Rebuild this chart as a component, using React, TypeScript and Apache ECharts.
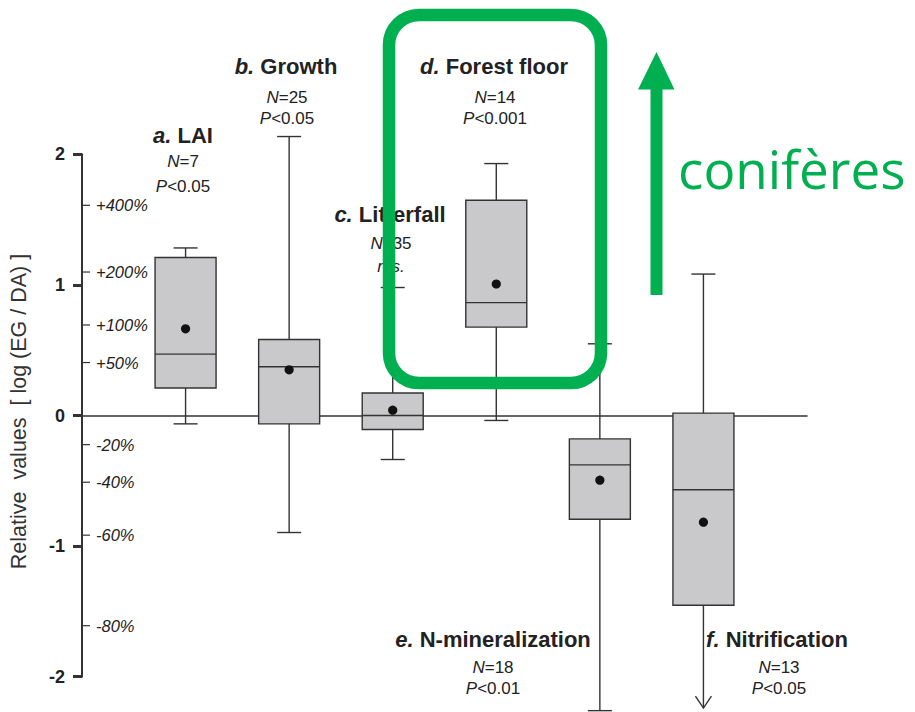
import React, { useEffect, useRef } from 'react';
import * as echarts from 'echarts';

// ---- data ----
const panelLetters = ['a.', 'b.', 'c.', 'd.', 'e.', 'f.'];
const panelNames = ['LAI', 'Growth', 'Litterfall', 'Forest floor', 'N-mineralization', 'Nitrification'];
const sampleSizes = ['7', '25', '35', '14', '18', '13'];
const pValues = ['<0.05', '<0.05', 'n.s.', '<0.001', '<0.01', '<0.05'];

const whiskerLow = [-0.064, -0.896, -0.337, -0.038, -2.26, -2.24];
const q1 = [0.21, -0.064, -0.107, 0.677, -0.794, -1.453];
const median = [0.47, 0.373, 0.0, 0.864, -0.378, -0.569];
const q3 = [1.21, 0.582, 0.172, 1.648, -0.179, 0.018];
const whiskerHigh = [1.283, 2.136, 0.98, 1.929, 0.549, 1.083];
const means = [0.664, 0.35, 0.041, 1.007, -0.495, -0.817];
const truncatedLow = [0, 0, 0, 0, 0, 1];

const yTicks = [-2, -1, 0, 1, 2];
const pctLabels = ['+400%', '+200%', '+100%', '+50%', '-20%', '-40%', '-60%', '-80%'];
const pctChanges = [4, 2, 1, 0.5, -0.2, -0.4, -0.6, -0.8];

// ---- layout (pixels) ----
const labelLayout = [
  { tx: 183, ty: 135, nx: 183, ny: 161, py: 186 },
  { tx: 286, ty: 66, nx: 287, ny: 97, py: 118 },
  { tx: 390, ty: 214, nx: 391, ny: 243, py: 266 },
  { tx: 494, ty: 66, nx: 495, ny: 97, py: 118 },
  { tx: 493, ty: 639, nx: 493, ny: 667, py: 688 },
  { tx: 777, ty: 639, nx: 779, ny: 667, py: 688 },
];

const FONT = '"Liberation Sans", Arial, sans-serif';
const INK = '#333333';
const TXT = '#222222';
const GREEN = '#00b050';

export default function App() {
  const ref = useRef<HTMLDivElement>(null);
  useEffect(() => {
    if (!ref.current) return;
    const chart = echarts.init(ref.current, undefined, { renderer: 'svg' });

    const boxData = panelNames.map((_, i) => [
      i + 1, whiskerLow[i], q1[i], median[i], q3[i], whiskerHigh[i], means[i], truncatedLow[i],
    ]);
    const pctData = pctChanges.map((p) => [0, Math.log(1 + p)]);

    const rich = {
      bi: { fontFamily: FONT, fontSize: 22, fontWeight: 'bold', fontStyle: 'italic', fill: TXT },
      b: { fontFamily: FONT, fontSize: 22, fontWeight: 'bold', fill: TXT },
      i: { fontFamily: FONT, fontSize: 17, fontStyle: 'italic', fill: TXT },
      r: { fontFamily: FONT, fontSize: 17, fill: TXT },
    };

    const labelGraphics: any[] = [];
    panelNames.forEach((name, i) => {
      const L = labelLayout[i];
      labelGraphics.push({
        type: 'text', x: L.tx, y: L.ty, z: 10,
        style: { text: `{bi|${panelLetters[i]}}{b| ${name}}`, rich, align: 'center', verticalAlign: 'middle' },
      });
      labelGraphics.push({
        type: 'text', x: L.nx, y: L.ny, z: 10,
        style: { text: `{i|N}{r|=${sampleSizes[i]}}`, rich, align: 'center', verticalAlign: 'middle' },
      });
      const pText = pValues[i] === 'n.s.' ? `{i|n.s.}` : `{i|P}{r|${pValues[i]}}`;
      labelGraphics.push({
        type: 'text', x: L.nx, y: L.py, z: 10,
        style: { text: pText, rich, align: 'center', verticalAlign: 'middle' },
      });
    });

    const option: any = {
      animation: false,
      backgroundColor: '#ffffff',
      grid: { left: 79, right: 108, top: 154.3, bottom: 35.3, containLabel: false },
      xAxis: {
        type: 'value', min: 0, max: 7,
        axisLine: { show: true, onZero: true, lineStyle: { color: INK, width: 1.5 } },
        axisTick: { show: false }, axisLabel: { show: false }, splitLine: { show: false },
      },
      yAxis: {
        type: 'value', min: -2, max: 2, interval: 1,
        axisLine: { show: true, onZero: true, lineStyle: { color: INK, width: 2 } },
        axisTick: { show: true, length: 9, lineStyle: { color: INK, width: 3 } },
        axisLabel: {
          margin: 17, fontFamily: FONT, fontSize: 18, fontWeight: 'bold', color: TXT,
          formatter: (v: number) => (yTicks.includes(v) ? String(v) : ''),
        },
        splitLine: { show: false },
        name: 'Relative  values  [ log (EG / DA) ]',
        nameLocation: 'middle', nameRotate: 90, nameGap: 52,
        nameTextStyle: { fontFamily: FONT, fontSize: 21.5, color: '#333', padding: [0, 0, 0, 8] },
      },
      series: [
        {
          type: 'custom',
          clip: false,
          data: pctData,
          encode: { x: 0, y: 1 },
          renderItem: (params: any, api: any) => {
            const p = api.coord([api.value(0), api.value(1)]);
            return {
              type: 'group',
              children: [
                { type: 'line', shape: { x1: p[0] + 1, y1: p[1], x2: p[0] + 8, y2: p[1] }, style: { stroke: INK, lineWidth: 1.2 } },
                {
                  type: 'text',
                  style: {
                    text: pctLabels[params.dataIndex], x: p[0] + 14, y: p[1],
                    align: 'left', verticalAlign: 'middle',
                    fontFamily: FONT, fontSize: 16.5, fontStyle: 'italic', fill: TXT,
                  },
                },
              ],
            };
          },
        },
        {
          type: 'custom',
          clip: false,
          data: boxData,
          encode: { x: 0, y: [1, 2, 3, 4, 5] },
          renderItem: (params: any, api: any) => {
            const x = api.value(0);
            const lo = api.coord([x, api.value(1)]);
            const pq1 = api.coord([x, api.value(2)]);
            const pmed = api.coord([x, api.value(3)]);
            const pq3 = api.coord([x, api.value(4)]);
            const hi = api.coord([x, api.value(5)]);
            const pm = api.coord([x, api.value(6)]);
            const trunc = api.value(7) === 1;
            const cx = lo[0];
            const hw = 30.5;
            const cw = 12;
            const ls = { stroke: INK, lineWidth: 1.4 };
            const children: any[] = [
              { type: 'line', shape: { x1: cx, y1: hi[1], x2: cx, y2: lo[1] }, style: ls },
              { type: 'line', shape: { x1: cx - cw, y1: hi[1], x2: cx + cw, y2: hi[1] }, style: ls },
            ];
            if (trunc) {
              children.push({
                type: 'polyline',
                shape: { points: [[cx - 8, lo[1] - 12], [cx, lo[1]], [cx + 8, lo[1] - 12]] },
                style: { ...ls, fill: null },
              });
            } else {
              children.push({ type: 'line', shape: { x1: cx - cw, y1: lo[1], x2: cx + cw, y2: lo[1] }, style: ls });
            }
            children.push(
              {
                type: 'rect',
                shape: { x: cx - hw, y: pq3[1], width: hw * 2, height: pq1[1] - pq3[1] },
                style: { fill: '#c9c9cb', stroke: INK, lineWidth: 1.4 },
              },
              { type: 'line', shape: { x1: cx - hw, y1: pmed[1], x2: cx + hw, y2: pmed[1] }, style: ls },
              { type: 'circle', shape: { cx, cy: pm[1], r: 4.6 }, style: { fill: '#111111' } },
            );
            return { type: 'group', children };
          },
        },
      ],
      graphic: [
        ...labelGraphics,
        {
          type: 'rect', z: 100,
          shape: { x: 389, y: 15, width: 212, height: 368, r: 30 },
          style: { fill: 'none', stroke: GREEN, lineWidth: 12.5 },
        },
        {
          type: 'rect', z: 100,
          shape: { x: 650.5, y: 88, width: 12, height: 207 },
          style: { fill: GREEN },
        },
        {
          type: 'polygon', z: 100,
          shape: { points: [[638, 89.5], [674.5, 89.5], [656.5, 52]] },
          style: { fill: GREEN },
        },
        {
          type: 'text', z: 100, x: 678, y: 195,
          style: {
            text: 'conifères', fontFamily: '"Open Sans", sans-serif', fontSize: 53,
            fill: GREEN, align: 'left', verticalAlign: 'bottom',
          },
        },
      ],
    };
    chart.setOption(option);
    return () => chart.dispose();
  }, []);
  return <div ref={ref} style={{ position: 'fixed', left: 0, top: 0, width: 915, height: 712 }} />;
}
